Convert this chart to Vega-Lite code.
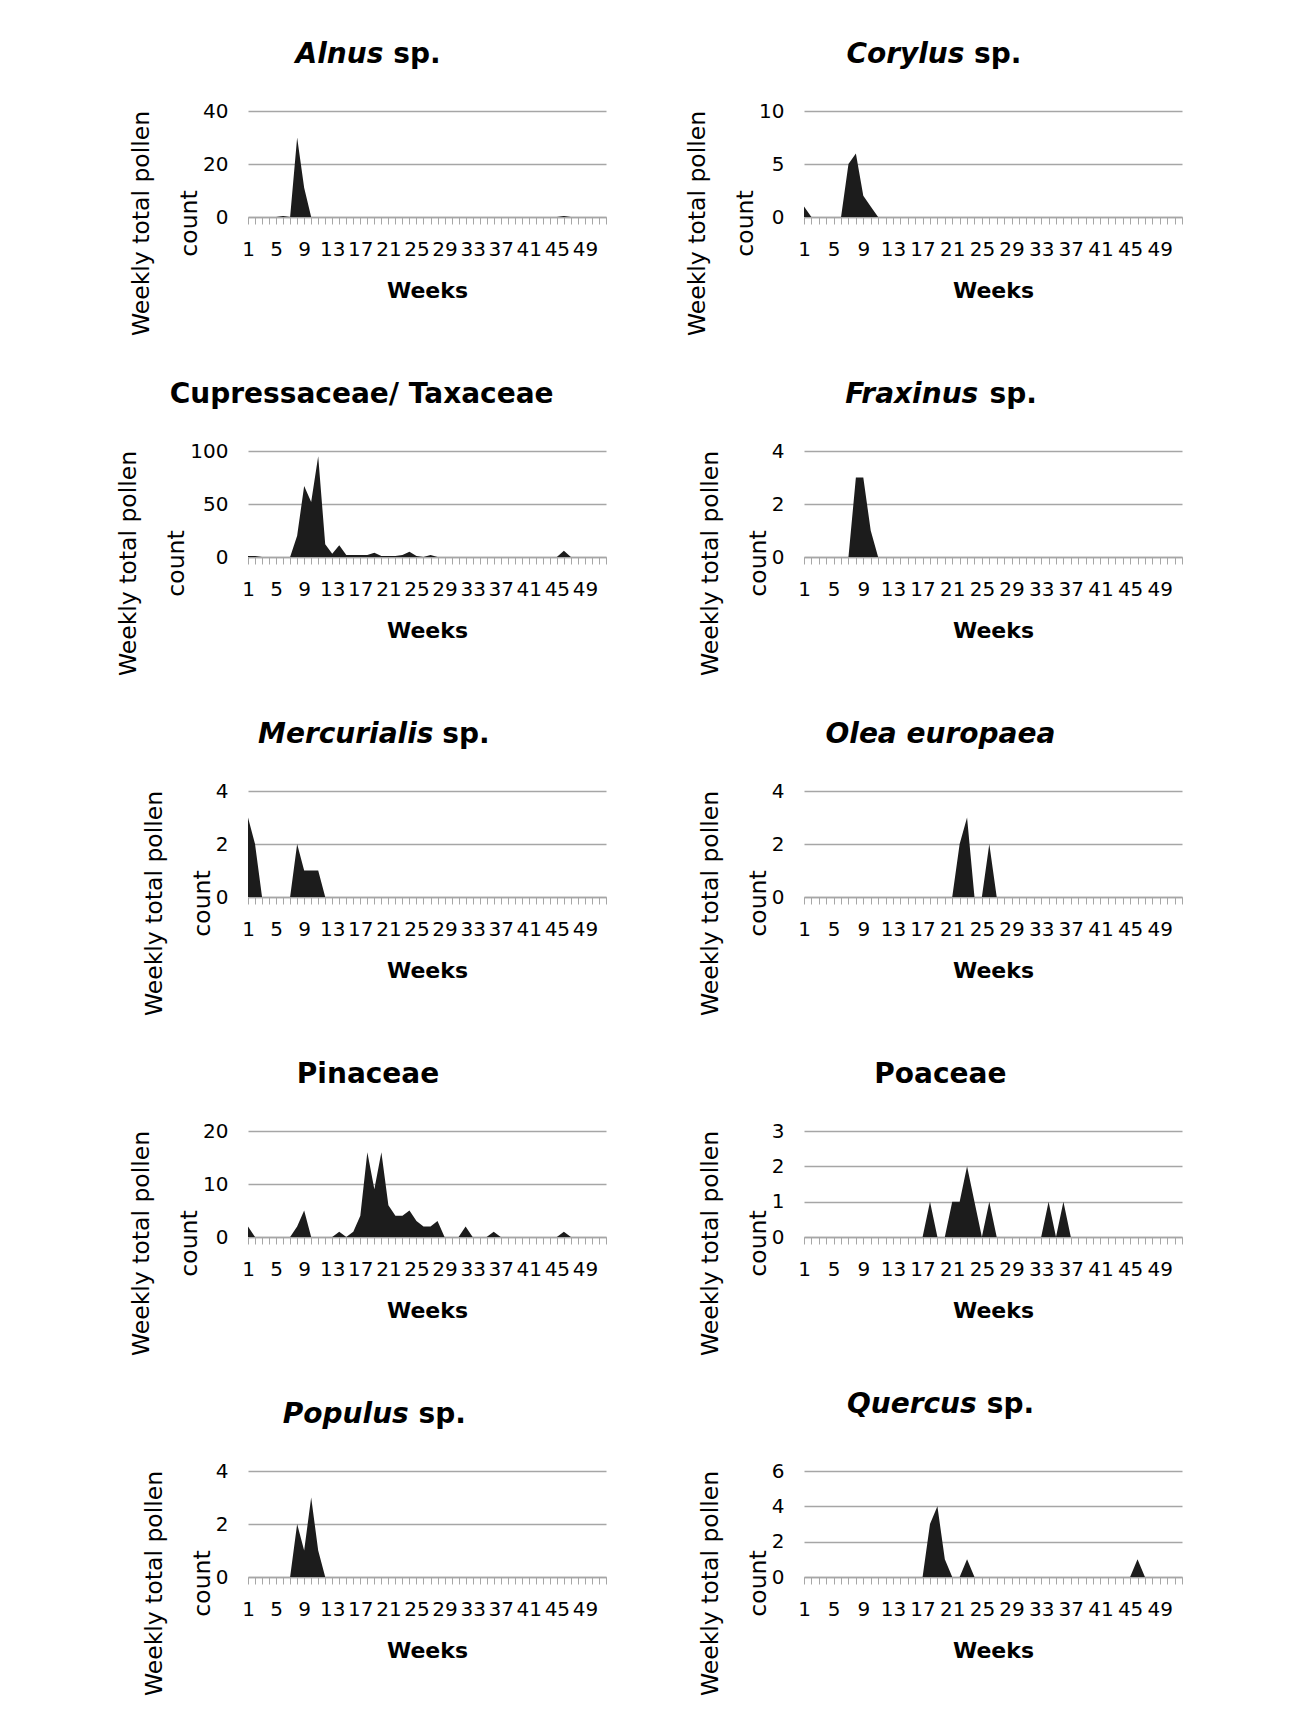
{
"$schema": "https://vega.github.io/schema/vega-lite/v6.json",
"padding": {"left": 116, "top": 41, "right": 10, "bottom": 10},
"bounds": "flush",
"columns": 2,
"spacing": {"row": 234, "column": 198},
"datasets": {
"alnus": [{"week":1,"count":0},{"week":2,"count":0},{"week":3,"count":0},{"week":4,"count":0},{"week":5,"count":0},{"week":6,"count":0.4},{"week":7,"count":0},{"week":8,"count":30},{"week":9,"count":11},{"week":10,"count":0},{"week":11,"count":0},{"week":12,"count":0},{"week":13,"count":0},{"week":14,"count":0},{"week":15,"count":0},{"week":16,"count":0},{"week":17,"count":0},{"week":18,"count":0},{"week":19,"count":0},{"week":20,"count":0},{"week":21,"count":0},{"week":22,"count":0},{"week":23,"count":0},{"week":24,"count":0},{"week":25,"count":0},{"week":26,"count":0},{"week":27,"count":0},{"week":28,"count":0},{"week":29,"count":0},{"week":30,"count":0},{"week":31,"count":0},{"week":32,"count":0},{"week":33,"count":0},{"week":34,"count":0},{"week":35,"count":0},{"week":36,"count":0},{"week":37,"count":0},{"week":38,"count":0},{"week":39,"count":0},{"week":40,"count":0},{"week":41,"count":0},{"week":42,"count":0},{"week":43,"count":0},{"week":44,"count":0},{"week":45,"count":0},{"week":46,"count":0.4},{"week":47,"count":0},{"week":48,"count":0},{"week":49,"count":0},{"week":50,"count":0},{"week":51,"count":0},{"week":52,"count":0}],
"corylus": [{"week":1,"count":1},{"week":2,"count":0},{"week":3,"count":0},{"week":4,"count":0},{"week":5,"count":0},{"week":6,"count":0},{"week":7,"count":5},{"week":8,"count":6},{"week":9,"count":2},{"week":10,"count":1},{"week":11,"count":0},{"week":12,"count":0},{"week":13,"count":0},{"week":14,"count":0},{"week":15,"count":0},{"week":16,"count":0},{"week":17,"count":0},{"week":18,"count":0},{"week":19,"count":0},{"week":20,"count":0},{"week":21,"count":0},{"week":22,"count":0},{"week":23,"count":0},{"week":24,"count":0},{"week":25,"count":0},{"week":26,"count":0},{"week":27,"count":0},{"week":28,"count":0},{"week":29,"count":0},{"week":30,"count":0},{"week":31,"count":0},{"week":32,"count":0},{"week":33,"count":0},{"week":34,"count":0},{"week":35,"count":0},{"week":36,"count":0},{"week":37,"count":0},{"week":38,"count":0},{"week":39,"count":0},{"week":40,"count":0},{"week":41,"count":0},{"week":42,"count":0},{"week":43,"count":0},{"week":44,"count":0},{"week":45,"count":0},{"week":46,"count":0},{"week":47,"count":0},{"week":48,"count":0},{"week":49,"count":0},{"week":50,"count":0},{"week":51,"count":0},{"week":52,"count":0}],
"cupress": [{"week":1,"count":1},{"week":2,"count":1},{"week":3,"count":0},{"week":4,"count":0},{"week":5,"count":0},{"week":6,"count":0},{"week":7,"count":0},{"week":8,"count":20},{"week":9,"count":67},{"week":10,"count":52},{"week":11,"count":95},{"week":12,"count":12},{"week":13,"count":3},{"week":14,"count":11},{"week":15,"count":2},{"week":16,"count":2},{"week":17,"count":2},{"week":18,"count":2},{"week":19,"count":4},{"week":20,"count":1},{"week":21,"count":1},{"week":22,"count":1},{"week":23,"count":2},{"week":24,"count":5},{"week":25,"count":1},{"week":26,"count":0},{"week":27,"count":2},{"week":28,"count":0},{"week":29,"count":0},{"week":30,"count":0},{"week":31,"count":0},{"week":32,"count":0},{"week":33,"count":0},{"week":34,"count":0},{"week":35,"count":0},{"week":36,"count":0},{"week":37,"count":0},{"week":38,"count":0},{"week":39,"count":0},{"week":40,"count":0},{"week":41,"count":0},{"week":42,"count":0},{"week":43,"count":0},{"week":44,"count":0},{"week":45,"count":0},{"week":46,"count":6},{"week":47,"count":0},{"week":48,"count":0},{"week":49,"count":0},{"week":50,"count":0},{"week":51,"count":0},{"week":52,"count":0}],
"fraxinus": [{"week":1,"count":0},{"week":2,"count":0},{"week":3,"count":0},{"week":4,"count":0},{"week":5,"count":0},{"week":6,"count":0},{"week":7,"count":0},{"week":8,"count":3},{"week":9,"count":3},{"week":10,"count":1},{"week":11,"count":0},{"week":12,"count":0},{"week":13,"count":0},{"week":14,"count":0},{"week":15,"count":0},{"week":16,"count":0},{"week":17,"count":0},{"week":18,"count":0},{"week":19,"count":0},{"week":20,"count":0},{"week":21,"count":0},{"week":22,"count":0},{"week":23,"count":0},{"week":24,"count":0},{"week":25,"count":0},{"week":26,"count":0},{"week":27,"count":0},{"week":28,"count":0},{"week":29,"count":0},{"week":30,"count":0},{"week":31,"count":0},{"week":32,"count":0},{"week":33,"count":0},{"week":34,"count":0},{"week":35,"count":0},{"week":36,"count":0},{"week":37,"count":0},{"week":38,"count":0},{"week":39,"count":0},{"week":40,"count":0},{"week":41,"count":0},{"week":42,"count":0},{"week":43,"count":0},{"week":44,"count":0},{"week":45,"count":0},{"week":46,"count":0},{"week":47,"count":0},{"week":48,"count":0},{"week":49,"count":0},{"week":50,"count":0},{"week":51,"count":0},{"week":52,"count":0}],
"mercurialis": [{"week":1,"count":3},{"week":2,"count":2},{"week":3,"count":0},{"week":4,"count":0},{"week":5,"count":0},{"week":6,"count":0},{"week":7,"count":0},{"week":8,"count":2},{"week":9,"count":1},{"week":10,"count":1},{"week":11,"count":1},{"week":12,"count":0},{"week":13,"count":0},{"week":14,"count":0},{"week":15,"count":0},{"week":16,"count":0},{"week":17,"count":0},{"week":18,"count":0},{"week":19,"count":0},{"week":20,"count":0},{"week":21,"count":0},{"week":22,"count":0},{"week":23,"count":0},{"week":24,"count":0},{"week":25,"count":0},{"week":26,"count":0},{"week":27,"count":0},{"week":28,"count":0},{"week":29,"count":0},{"week":30,"count":0},{"week":31,"count":0},{"week":32,"count":0},{"week":33,"count":0},{"week":34,"count":0},{"week":35,"count":0},{"week":36,"count":0},{"week":37,"count":0},{"week":38,"count":0},{"week":39,"count":0},{"week":40,"count":0},{"week":41,"count":0},{"week":42,"count":0},{"week":43,"count":0},{"week":44,"count":0},{"week":45,"count":0},{"week":46,"count":0},{"week":47,"count":0},{"week":48,"count":0},{"week":49,"count":0},{"week":50,"count":0},{"week":51,"count":0},{"week":52,"count":0}],
"olea": [{"week":1,"count":0},{"week":2,"count":0},{"week":3,"count":0},{"week":4,"count":0},{"week":5,"count":0},{"week":6,"count":0},{"week":7,"count":0},{"week":8,"count":0},{"week":9,"count":0},{"week":10,"count":0},{"week":11,"count":0},{"week":12,"count":0},{"week":13,"count":0},{"week":14,"count":0},{"week":15,"count":0},{"week":16,"count":0},{"week":17,"count":0},{"week":18,"count":0},{"week":19,"count":0},{"week":20,"count":0},{"week":21,"count":0},{"week":22,"count":2},{"week":23,"count":3},{"week":24,"count":0},{"week":25,"count":0},{"week":26,"count":2},{"week":27,"count":0},{"week":28,"count":0},{"week":29,"count":0},{"week":30,"count":0},{"week":31,"count":0},{"week":32,"count":0},{"week":33,"count":0},{"week":34,"count":0},{"week":35,"count":0},{"week":36,"count":0},{"week":37,"count":0},{"week":38,"count":0},{"week":39,"count":0},{"week":40,"count":0},{"week":41,"count":0},{"week":42,"count":0},{"week":43,"count":0},{"week":44,"count":0},{"week":45,"count":0},{"week":46,"count":0},{"week":47,"count":0},{"week":48,"count":0},{"week":49,"count":0},{"week":50,"count":0},{"week":51,"count":0},{"week":52,"count":0}],
"pinaceae": [{"week":1,"count":2},{"week":2,"count":0},{"week":3,"count":0},{"week":4,"count":0},{"week":5,"count":0},{"week":6,"count":0},{"week":7,"count":0},{"week":8,"count":2},{"week":9,"count":5},{"week":10,"count":0},{"week":11,"count":0},{"week":12,"count":0},{"week":13,"count":0},{"week":14,"count":1},{"week":15,"count":0},{"week":16,"count":1},{"week":17,"count":4},{"week":18,"count":16},{"week":19,"count":9},{"week":20,"count":16},{"week":21,"count":6},{"week":22,"count":4},{"week":23,"count":4},{"week":24,"count":5},{"week":25,"count":3},{"week":26,"count":2},{"week":27,"count":2},{"week":28,"count":3},{"week":29,"count":0},{"week":30,"count":0},{"week":31,"count":0},{"week":32,"count":2},{"week":33,"count":0},{"week":34,"count":0},{"week":35,"count":0},{"week":36,"count":1},{"week":37,"count":0},{"week":38,"count":0},{"week":39,"count":0},{"week":40,"count":0},{"week":41,"count":0},{"week":42,"count":0},{"week":43,"count":0},{"week":44,"count":0},{"week":45,"count":0},{"week":46,"count":1},{"week":47,"count":0},{"week":48,"count":0},{"week":49,"count":0},{"week":50,"count":0},{"week":51,"count":0},{"week":52,"count":0}],
"poaceae": [{"week":1,"count":0},{"week":2,"count":0},{"week":3,"count":0},{"week":4,"count":0},{"week":5,"count":0},{"week":6,"count":0},{"week":7,"count":0},{"week":8,"count":0},{"week":9,"count":0},{"week":10,"count":0},{"week":11,"count":0},{"week":12,"count":0},{"week":13,"count":0},{"week":14,"count":0},{"week":15,"count":0},{"week":16,"count":0},{"week":17,"count":0},{"week":18,"count":1},{"week":19,"count":0},{"week":20,"count":0},{"week":21,"count":1},{"week":22,"count":1},{"week":23,"count":2},{"week":24,"count":1},{"week":25,"count":0},{"week":26,"count":1},{"week":27,"count":0},{"week":28,"count":0},{"week":29,"count":0},{"week":30,"count":0},{"week":31,"count":0},{"week":32,"count":0},{"week":33,"count":0},{"week":34,"count":1},{"week":35,"count":0},{"week":36,"count":1},{"week":37,"count":0},{"week":38,"count":0},{"week":39,"count":0},{"week":40,"count":0},{"week":41,"count":0},{"week":42,"count":0},{"week":43,"count":0},{"week":44,"count":0},{"week":45,"count":0},{"week":46,"count":0},{"week":47,"count":0},{"week":48,"count":0},{"week":49,"count":0},{"week":50,"count":0},{"week":51,"count":0},{"week":52,"count":0}],
"populus": [{"week":1,"count":0},{"week":2,"count":0},{"week":3,"count":0},{"week":4,"count":0},{"week":5,"count":0},{"week":6,"count":0},{"week":7,"count":0},{"week":8,"count":2},{"week":9,"count":1},{"week":10,"count":3},{"week":11,"count":1},{"week":12,"count":0},{"week":13,"count":0},{"week":14,"count":0},{"week":15,"count":0},{"week":16,"count":0},{"week":17,"count":0},{"week":18,"count":0},{"week":19,"count":0},{"week":20,"count":0},{"week":21,"count":0},{"week":22,"count":0},{"week":23,"count":0},{"week":24,"count":0},{"week":25,"count":0},{"week":26,"count":0},{"week":27,"count":0},{"week":28,"count":0},{"week":29,"count":0},{"week":30,"count":0},{"week":31,"count":0},{"week":32,"count":0},{"week":33,"count":0},{"week":34,"count":0},{"week":35,"count":0},{"week":36,"count":0},{"week":37,"count":0},{"week":38,"count":0},{"week":39,"count":0},{"week":40,"count":0},{"week":41,"count":0},{"week":42,"count":0},{"week":43,"count":0},{"week":44,"count":0},{"week":45,"count":0},{"week":46,"count":0},{"week":47,"count":0},{"week":48,"count":0},{"week":49,"count":0},{"week":50,"count":0},{"week":51,"count":0},{"week":52,"count":0}],
"quercus": [{"week":1,"count":0},{"week":2,"count":0},{"week":3,"count":0},{"week":4,"count":0},{"week":5,"count":0},{"week":6,"count":0},{"week":7,"count":0},{"week":8,"count":0},{"week":9,"count":0},{"week":10,"count":0},{"week":11,"count":0},{"week":12,"count":0},{"week":13,"count":0},{"week":14,"count":0},{"week":15,"count":0},{"week":16,"count":0},{"week":17,"count":0},{"week":18,"count":3},{"week":19,"count":4},{"week":20,"count":1},{"week":21,"count":0},{"week":22,"count":0},{"week":23,"count":1},{"week":24,"count":0},{"week":25,"count":0},{"week":26,"count":0},{"week":27,"count":0},{"week":28,"count":0},{"week":29,"count":0},{"week":30,"count":0},{"week":31,"count":0},{"week":32,"count":0},{"week":33,"count":0},{"week":34,"count":0},{"week":35,"count":0},{"week":36,"count":0},{"week":37,"count":0},{"week":38,"count":0},{"week":39,"count":0},{"week":40,"count":0},{"week":41,"count":0},{"week":42,"count":0},{"week":43,"count":0},{"week":44,"count":0},{"week":45,"count":0},{"week":46,"count":1},{"week":47,"count":0},{"week":48,"count":0},{"week":49,"count":0},{"week":50,"count":0},{"week":51,"count":0},{"week":52,"count":0}]
},
"concat": [
{"title": {"text": "Alnus\u00a0\u2007\u2003\u2060", "subtitle": "\u2060\u2003\u2003\u2003\u2002sp.", "fontStyle": "italic"}, "width": 358, "height": 106, "data": {"name": "alnus"},
 "mark": {"type": "area", "color": "#1c1c1c"},
 "encoding": {
  "x": {"field": "week", "type": "quantitative", "scale": {"domain": [1, 52], "nice": false, "zero": false}, "axis": {"title": "Weeks", "values": [1,2,3,4,5,6,7,8,9,10,11,12,13,14,15,16,17,18,19,20,21,22,23,24,25,26,27,28,29,30,31,32,33,34,35,36,37,38,39,40,41,42,43,44,45,46,47,48,49,50,51,52], "labelExpr": "(datum.value - 1) % 4 == 0 ? datum.label : ''"}},
  "y": {"field": "count", "type": "quantitative", "scale": {"domain": [0, 40], "nice": false}, "axis": {"values": [0, 20, 40], "title": ["Weekly total pollen", "count"]}}}},
{"title": {"text": "Corylus\u00a0\u2007\u2003\u2060", "subtitle": "\u2060\u2003\u2003\u2003\u2002\u2007\u00a0sp.", "fontStyle": "italic"}, "width": 378, "height": 106, "data": {"name": "corylus"},
 "mark": {"type": "area", "color": "#1c1c1c"},
 "encoding": {
  "x": {"field": "week", "type": "quantitative", "scale": {"domain": [1, 52], "nice": false, "zero": false}, "axis": {"title": "Weeks", "values": [1,2,3,4,5,6,7,8,9,10,11,12,13,14,15,16,17,18,19,20,21,22,23,24,25,26,27,28,29,30,31,32,33,34,35,36,37,38,39,40,41,42,43,44,45,46,47,48,49,50,51,52], "labelExpr": "(datum.value - 1) % 4 == 0 ? datum.label : ''"}},
  "y": {"field": "count", "type": "quantitative", "scale": {"domain": [0, 10], "nice": false}, "axis": {"values": [0, 5, 10], "title": ["Weekly total pollen", "count"]}}}},
{"title": {"text": "Cupressaceae/ Taxaceae", "fontStyle": "normal"}, "width": 358, "height": 106, "data": {"name": "cupress"},
 "mark": {"type": "area", "color": "#1c1c1c"},
 "encoding": {
  "x": {"field": "week", "type": "quantitative", "scale": {"domain": [1, 52], "nice": false, "zero": false}, "axis": {"title": "Weeks", "values": [1,2,3,4,5,6,7,8,9,10,11,12,13,14,15,16,17,18,19,20,21,22,23,24,25,26,27,28,29,30,31,32,33,34,35,36,37,38,39,40,41,42,43,44,45,46,47,48,49,50,51,52], "labelExpr": "(datum.value - 1) % 4 == 0 ? datum.label : ''"}},
  "y": {"field": "count", "type": "quantitative", "scale": {"domain": [0, 100], "nice": false}, "axis": {"values": [0, 50, 100], "title": ["Weekly total pollen", "count"]}}}},
{"title": {"text": "Fraxinus\u00a0\u2007\u2003\u2060", "subtitle": "\u2060\u2003\u2003\u2003\u2003\u2002\u2007sp.", "fontStyle": "italic"}, "width": 378, "height": 106, "data": {"name": "fraxinus"},
 "mark": {"type": "area", "color": "#1c1c1c"},
 "encoding": {
  "x": {"field": "week", "type": "quantitative", "scale": {"domain": [1, 52], "nice": false, "zero": false}, "axis": {"title": "Weeks", "values": [1,2,3,4,5,6,7,8,9,10,11,12,13,14,15,16,17,18,19,20,21,22,23,24,25,26,27,28,29,30,31,32,33,34,35,36,37,38,39,40,41,42,43,44,45,46,47,48,49,50,51,52], "labelExpr": "(datum.value - 1) % 4 == 0 ? datum.label : ''"}},
  "y": {"field": "count", "type": "quantitative", "scale": {"domain": [0, 4], "nice": false}, "axis": {"values": [0, 2, 4], "title": ["Weekly total pollen", "count"]}}}},
{"title": {"text": "Mercurialis\u00a0\u2007\u2003\u2060", "subtitle": "\u2060\u2003\u2003\u2003\u2003\u2003\u2002\u2007\u00a0sp.", "fontStyle": "italic"}, "width": 358, "height": 106, "data": {"name": "mercurialis"},
 "mark": {"type": "area", "color": "#1c1c1c"},
 "encoding": {
  "x": {"field": "week", "type": "quantitative", "scale": {"domain": [1, 52], "nice": false, "zero": false}, "axis": {"title": "Weeks", "values": [1,2,3,4,5,6,7,8,9,10,11,12,13,14,15,16,17,18,19,20,21,22,23,24,25,26,27,28,29,30,31,32,33,34,35,36,37,38,39,40,41,42,43,44,45,46,47,48,49,50,51,52], "labelExpr": "(datum.value - 1) % 4 == 0 ? datum.label : ''"}},
  "y": {"field": "count", "type": "quantitative", "scale": {"domain": [0, 4], "nice": false}, "axis": {"values": [0, 2, 4], "title": ["Weekly total pollen", "count"]}}}},
{"title": {"text": "Olea europaea", "fontStyle": "italic"}, "width": 378, "height": 106, "data": {"name": "olea"},
 "mark": {"type": "area", "color": "#1c1c1c"},
 "encoding": {
  "x": {"field": "week", "type": "quantitative", "scale": {"domain": [1, 52], "nice": false, "zero": false}, "axis": {"title": "Weeks", "values": [1,2,3,4,5,6,7,8,9,10,11,12,13,14,15,16,17,18,19,20,21,22,23,24,25,26,27,28,29,30,31,32,33,34,35,36,37,38,39,40,41,42,43,44,45,46,47,48,49,50,51,52], "labelExpr": "(datum.value - 1) % 4 == 0 ? datum.label : ''"}},
  "y": {"field": "count", "type": "quantitative", "scale": {"domain": [0, 4], "nice": false}, "axis": {"values": [0, 2, 4], "title": ["Weekly total pollen", "count"]}}}},
{"title": {"text": "Pinaceae", "fontStyle": "normal"}, "width": 358, "height": 106, "data": {"name": "pinaceae"},
 "mark": {"type": "area", "color": "#1c1c1c"},
 "encoding": {
  "x": {"field": "week", "type": "quantitative", "scale": {"domain": [1, 52], "nice": false, "zero": false}, "axis": {"title": "Weeks", "values": [1,2,3,4,5,6,7,8,9,10,11,12,13,14,15,16,17,18,19,20,21,22,23,24,25,26,27,28,29,30,31,32,33,34,35,36,37,38,39,40,41,42,43,44,45,46,47,48,49,50,51,52], "labelExpr": "(datum.value - 1) % 4 == 0 ? datum.label : ''"}},
  "y": {"field": "count", "type": "quantitative", "scale": {"domain": [0, 20], "nice": false}, "axis": {"values": [0, 10, 20], "title": ["Weekly total pollen", "count"]}}}},
{"title": {"text": "Poaceae", "fontStyle": "normal"}, "width": 378, "height": 106, "data": {"name": "poaceae"},
 "mark": {"type": "area", "color": "#1c1c1c"},
 "encoding": {
  "x": {"field": "week", "type": "quantitative", "scale": {"domain": [1, 52], "nice": false, "zero": false}, "axis": {"title": "Weeks", "values": [1,2,3,4,5,6,7,8,9,10,11,12,13,14,15,16,17,18,19,20,21,22,23,24,25,26,27,28,29,30,31,32,33,34,35,36,37,38,39,40,41,42,43,44,45,46,47,48,49,50,51,52], "labelExpr": "(datum.value - 1) % 4 == 0 ? datum.label : ''"}},
  "y": {"field": "count", "type": "quantitative", "scale": {"domain": [0, 3], "nice": false}, "axis": {"values": [0, 1, 2, 3], "title": ["Weekly total pollen", "count"]}}}},
{"title": {"text": "Populus\u00a0\u2007\u2003\u2060", "subtitle": "\u2060\u2003\u2003\u2003\u2003\u2002\u00a0sp.", "fontStyle": "italic"}, "width": 358, "height": 106, "data": {"name": "populus"},
 "mark": {"type": "area", "color": "#1c1c1c"},
 "encoding": {
  "x": {"field": "week", "type": "quantitative", "scale": {"domain": [1, 52], "nice": false, "zero": false}, "axis": {"title": "Weeks", "values": [1,2,3,4,5,6,7,8,9,10,11,12,13,14,15,16,17,18,19,20,21,22,23,24,25,26,27,28,29,30,31,32,33,34,35,36,37,38,39,40,41,42,43,44,45,46,47,48,49,50,51,52], "labelExpr": "(datum.value - 1) % 4 == 0 ? datum.label : ''"}},
  "y": {"field": "count", "type": "quantitative", "scale": {"domain": [0, 4], "nice": false}, "axis": {"values": [0, 2, 4], "title": ["Weekly total pollen", "count"]}}}},
{"title": {"text": "Quercus\u00a0\u2007\u2003\u2060", "subtitle": "\u2060\u2003\u2003\u2003\u2003\u2003sp.", "fontStyle": "italic", "offset": 42}, "width": 378, "height": 106, "data": {"name": "quercus"},
 "mark": {"type": "area", "color": "#1c1c1c"},
 "encoding": {
  "x": {"field": "week", "type": "quantitative", "scale": {"domain": [1, 52], "nice": false, "zero": false}, "axis": {"title": "Weeks", "values": [1,2,3,4,5,6,7,8,9,10,11,12,13,14,15,16,17,18,19,20,21,22,23,24,25,26,27,28,29,30,31,32,33,34,35,36,37,38,39,40,41,42,43,44,45,46,47,48,49,50,51,52], "labelExpr": "(datum.value - 1) % 4 == 0 ? datum.label : ''"}},
  "y": {"field": "count", "type": "quantitative", "scale": {"domain": [0, 6], "nice": false}, "axis": {"values": [0, 2, 4, 6], "title": ["Weekly total pollen", "count"]}}}}
],
"config": {
 "background": "white",
 "view": {"stroke": null},
 "font": "DejaVu Sans",
 "title": {"font": "DejaVu Sans", "fontSize": 28, "fontWeight": "bold", "color": "#000000", "anchor": "middle", "frame": "bounds", "offset": 32, "baseline": "bottom",
   "subtitleFont": "DejaVu Sans", "subtitleFontSize": 28, "subtitleFontWeight": "bold", "subtitleFontStyle": "normal", "subtitleColor": "#000000", "subtitlePadding": -28},
 "axis": {"labelFont": "DejaVu Sans", "labelFontSize": 20, "labelColor": "#000000", "titleFont": "DejaVu Sans", "titleColor": "#000000"},
 "axisX": {"domainColor": "#a6a6a6", "domainWidth": 1.5, "tickColor": "#a6a6a6", "tickSize": 7, "tickWidth": 1, "labelPadding": 15, "labelFlush": false, "labelOverlap": false, "labelBound": false, "grid": false, "titleFontSize": 22, "titleFontWeight": "bold", "titlePadding": 21},
 "axisY": {"domain": false, "ticks": false, "tickSize": 0, "grid": true, "gridColor": "#a6a6a6", "gridWidth": 1.3, "labelPadding": 20, "titleFontSize": 23.5, "titleFontWeight": "normal", "titleLineHeight": 48, "titlePadding": 1, "titleY": 112}
}
}
